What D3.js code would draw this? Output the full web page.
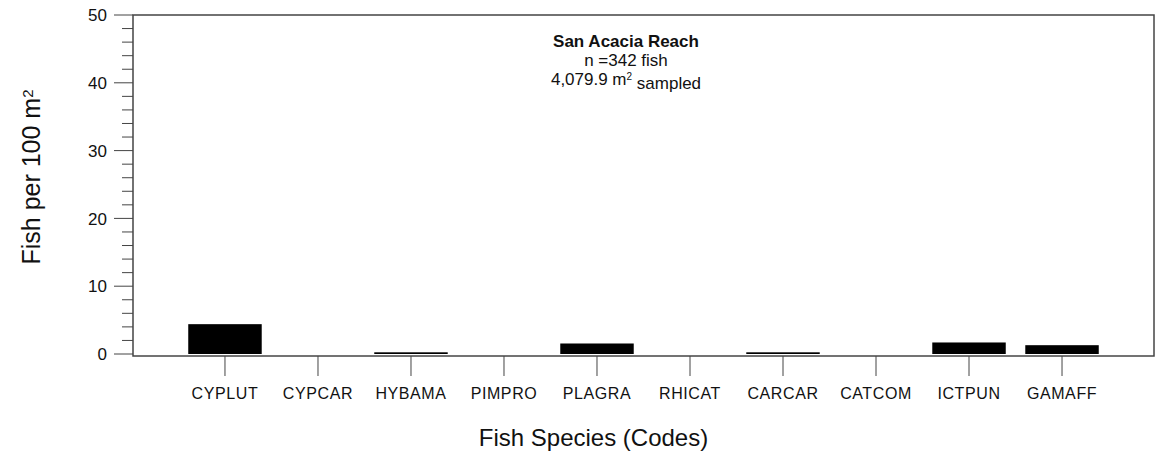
<!DOCTYPE html>
<html>
<head>
<meta charset="utf-8">
<script src="https://cdn.jsdelivr.net/npm/d3@7"></script>
<style>
  body { margin: 0; background: #fff; }
  text { font-family: Arial, "Liberation Sans", sans-serif; fill: #111; }
</style>
</head>
<body>
<div id="chart"></div>
<script>
// species codes along the x axis
const species = ["CYPLUT", "CYPCAR", "HYBAMA", "PIMPRO", "PLAGRA", "RHICAT", "CARCAR", "CATCOM", "ICTPUN", "GAMAFF"]
// fish per 100 m2
const density = [4.4, 0, 0.25, 0, 1.55, 0, 0.25, 0, 1.7, 1.3]
const yMajor = [0, 10, 20, 30, 40, 50]
const yMinor = d3.range(0, 51, 2)

const W = 1157, H = 457
const margin = {top: 15, right: 3, bottom: 101, left: 133}

const svg = d3.select("#chart").append("svg")
  .attr("width", W)
  .attr("height", H)

const x = d3.scaleBand()
  .domain(species)
  .range([margin.left, W - margin.right])
  .paddingInner(0.21)
  .paddingOuter(0.594)

const y = d3.scaleLinear()
  .domain([0, 50])
  .range([H - margin.bottom - 2, margin.top])

const baseY = H - margin.bottom  // frame bottom sits a touch under zero

// bars
svg.append("g")
  .selectAll("rect")
  .data(species)
  .enter()
  .append("rect")
    .attr("x", d => x(d))
    .attr("width", x.bandwidth())
    .attr("y", (d, i) => y(density[i]))
    .attr("height", (d, i) => y(0) - y(density[i]))
    .attr("fill", "#000")

// frame
svg.append("rect")
  .attr("x", margin.left)
  .attr("y", margin.top)
  .attr("width", W - margin.right - margin.left)
  .attr("height", baseY - margin.top)
  .attr("fill", "none")
  .attr("stroke", "#444")
  .attr("stroke-width", 1.5)

// y axis: major + minor ticks drawn outside
const yAxis = svg.append("g").attr("transform", `translate(${margin.left},0)`)
yAxis.selectAll("line.minor")
  .data(yMinor.filter(v => v % 10 !== 0))
  .enter().append("line")
    .attr("class", "minor")
    .attr("x1", -11).attr("x2", 0)
    .attr("y1", d => y(d)).attr("y2", d => y(d))
    .attr("stroke", "#444")
yAxis.selectAll("line.major")
  .data(yMajor)
  .enter().append("line")
    .attr("class", "major")
    .attr("x1", -19).attr("x2", 0)
    .attr("y1", d => y(d)).attr("y2", d => y(d))
    .attr("stroke", "#444")
yAxis.selectAll("text")
  .data(yMajor)
  .enter().append("text")
    .attr("x", -26)
    .attr("y", d => y(d))
    .attr("dy", "0.36em")
    .attr("text-anchor", "end")
    .style("font-size", "17px")
    .text(d => d)

// x axis ticks and labels
const xAxis = svg.append("g").attr("transform", `translate(0,${baseY})`)
xAxis.selectAll("line")
  .data(species)
  .enter().append("line")
    .attr("x1", d => x(d) + x.bandwidth() / 2)
    .attr("x2", d => x(d) + x.bandwidth() / 2)
    .attr("y1", 0).attr("y2", 20)
    .attr("stroke", "#444")
xAxis.selectAll("text")
  .data(species)
  .enter().append("text")
    .attr("x", d => x(d) + x.bandwidth() / 2)
    .attr("y", 43)
    .attr("text-anchor", "middle")
    .style("font-size", "16px")
    .style("letter-spacing", "0.6px")
    .text(d => d)

// axis titles
svg.append("text")
  .attr("x", (margin.left + W - margin.right) / 2 - 50)
  .attr("y", 446)
  .attr("text-anchor", "middle")
  .style("font-size", "24px")
  .text("Fish Species (Codes)")

const yt = svg.append("text")
  .attr("transform", "translate(40,177) rotate(-90)")
  .attr("text-anchor", "middle")
  .style("font-size", "25px")
yt.append("tspan").text("Fish per 100 m")
yt.append("tspan").attr("dy", "-0.45em").style("font-size", "15px").text("2")

// annotation
const cx = 626
svg.append("text")
  .attr("x", cx).attr("y", 47)
  .attr("text-anchor", "middle")
  .style("font-size", "17px")
  .style("font-weight", "bold")
  .text("San Acacia Reach")
svg.append("text")
  .attr("x", cx).attr("y", 66)
  .attr("text-anchor", "middle")
  .style("font-size", "17px")
  .text("n =342 fish")
const s = svg.append("text")
  .attr("x", cx).attr("y", 85)
  .attr("text-anchor", "middle")
  .style("font-size", "17px")
s.append("tspan").text("4,079.9 m")
s.append("tspan").attr("dy", "-0.5em").style("font-size", "10px").text("2")
s.append("tspan").attr("dy", "0.5em").text(" sampled")
</script>
</body>
</html>
